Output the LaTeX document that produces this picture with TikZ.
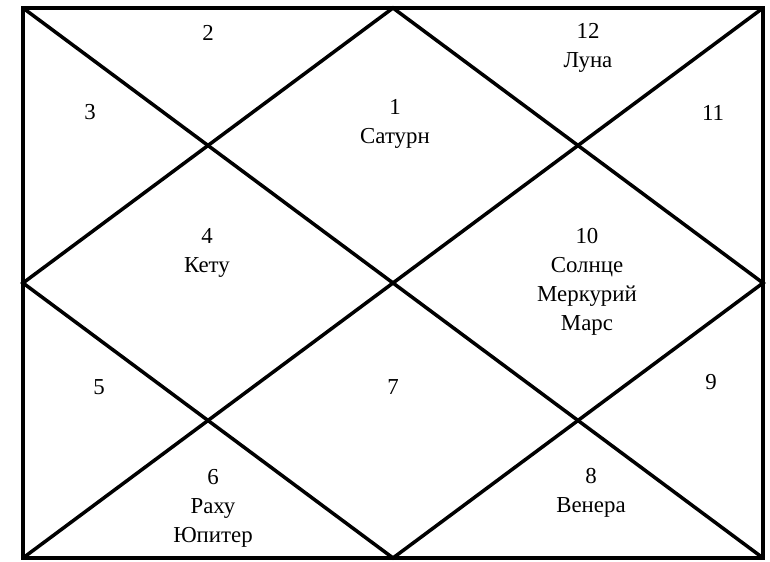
\documentclass[tikz,border=0pt]{standalone}
\usepackage{fontspec}
\setmainfont{Liberation Serif}
\usepackage{tikz}
\usetikzlibrary{positioning,calc}

\tikzset{
    chartline/.style={black, line width=2pt, line join=miter},
    house/.style={align=center, inner sep=1pt, font=\fontsize{13}{16.5}\selectfont}
}

\begin{document}
\begin{tikzpicture}
    \useasboundingbox (0,0) rectangle (15.4,11.24);

    % Corners and midpoints of the frame
    \coordinate (tl) at (0.46,11.08);
    \coordinate (tr) at (15.26,11.08);
    \coordinate (bl) at (0.46,0.08);
    \coordinate (br) at (15.26,0.08);
    \coordinate (tm) at (7.86,11.08);
    \coordinate (lm) at (0.46,5.58);
    \coordinate (bm) at (7.86,0.08);
    \coordinate (rm) at (15.26,5.58);

    % Frame, diagonals and inner diamond
    \draw[chartline] (tl) rectangle (br);
    \draw[chartline] (tl) -- (br);
    \draw[chartline] (tr) -- (bl);
    \draw[chartline] (tm) -- (rm) -- (bm) -- (lm) -- cycle;

    % Houses, top row
    \node[house] (h2) at (4.16,10.58) {2};
    \node[house] (h12) at (11.76,10.28) {12\\Луна};
    \node[house] (h3) at (1.80,8.99) {3};
    \node[house] (h1) at (7.90,8.76) {1\\Сатурн};
    \node[house] (h11) at (14.26,8.99) {11};

    % Houses, middle row
    \node[house] (h4) at (4.14,6.18) {4\\Кету};
    \node[house] (h10) at (11.74,5.61) {10\\Солнце\\Меркурий\\Марс};

    % Houses, bottom row
    \node[house] (h5) at (1.98,3.50) {5};
    \node[house] (h7) at (7.86,3.50) {7};
    \node[house] (h9) at (14.22,3.60) {9};
    \node[house] (h6) at (4.26,1.08) {6\\Раху\\Юпитер};
    \node[house] (h8) at (11.82,1.38) {8\\Венера};
\end{tikzpicture}
\end{document}
